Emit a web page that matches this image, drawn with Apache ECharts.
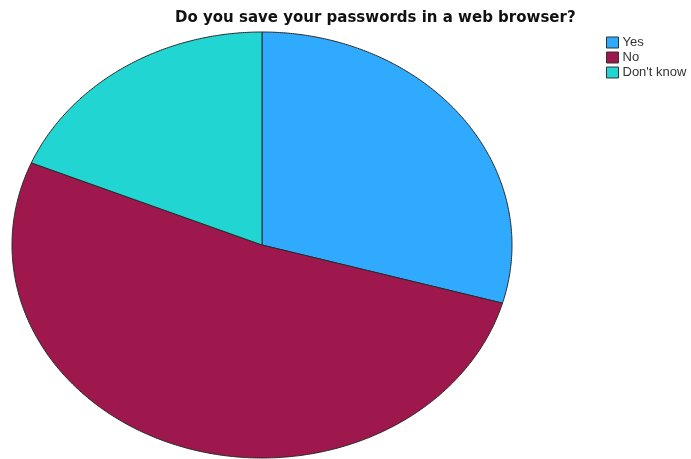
<!DOCTYPE html>
<html>
<head>
<meta charset="utf-8">
<script src="https://cdn.jsdelivr.net/npm/echarts@6/dist/echarts.min.js"></script>
<style>
  html, body { margin: 0; padding: 0; background: #fff; }
  #chart { width: 691px; height: 459px; }
</style>
</head>
<body>
<div id="chart"></div>
<script>
// Survey answers (percent of respondents)
const categories = ['Yes', 'No', "Don't know"];
const shares = [29.4, 51.9, 18.7];
const sliceColors = ['#30aafe', '#9e174d', '#21d6d2'];

const chart = echarts.init(document.getElementById('chart'), null, { renderer: 'canvas' });

// Elliptical pie geometry
const CX = 262, CY = 245, RX = 250, RY = 213;
const total = shares.reduce((a, b) => a + b, 0);

// Cumulative start/end fractions for each slice, starting at 12 o'clock, clockwise
const bounds = [];
let acc = 0;
shares.forEach(v => { bounds.push([acc / total, (acc + v) / total]); acc += v; });

function sliceRenderer(idx) {
  return function (params, api) {
    const [f0, f1] = bounds[idx];
    const a0 = f0 * Math.PI * 2, a1 = f1 * Math.PI * 2;
    const steps = Math.max(8, Math.ceil((a1 - a0) / (Math.PI / 360)));
    const pts = [[CX, CY]];
    for (let i = 0; i <= steps; i++) {
      const t = a0 + (a1 - a0) * i / steps;
      pts.push([CX + RX * Math.sin(t), CY - RY * Math.cos(t)]);
    }
    return {
      type: 'polygon',
      shape: { points: pts },
      style: { fill: sliceColors[idx], stroke: '#2a2a2a', lineWidth: 1, lineJoin: 'round' }
    };
  };
}

const series = categories.map((name, i) => ({
  type: 'custom',
  name: name,
  coordinateSystem: 'none',
  silent: true,
  itemStyle: { color: sliceColors[i] },
  data: [shares[i]],
  renderItem: sliceRenderer(i)
}));

chart.setOption({
  backgroundColor: '#ffffff',
  animation: false,
  title: {
    text: 'Do you save your passwords in a web browser?',
    left: 175,
    top: 11,
    padding: 0,
    textStyle: { fontFamily: 'DejaVu Sans', fontWeight: 'bold', fontSize: 15, color: '#111' }
  },
  legend: {
    orient: 'vertical',
    left: 606,
    top: 35,
    padding: 0,
    itemWidth: 12,
    itemHeight: 11,
    itemGap: 0,
    icon: 'rect',
    itemStyle: { borderColor: '#333', borderWidth: 1 },
    textStyle: { fontFamily: 'Liberation Sans', fontSize: 13, lineHeight: 15, color: '#333', padding: [0, 0, 0, -1] },
    data: categories
  },
  series: series
});
</script>
</body>
</html>
